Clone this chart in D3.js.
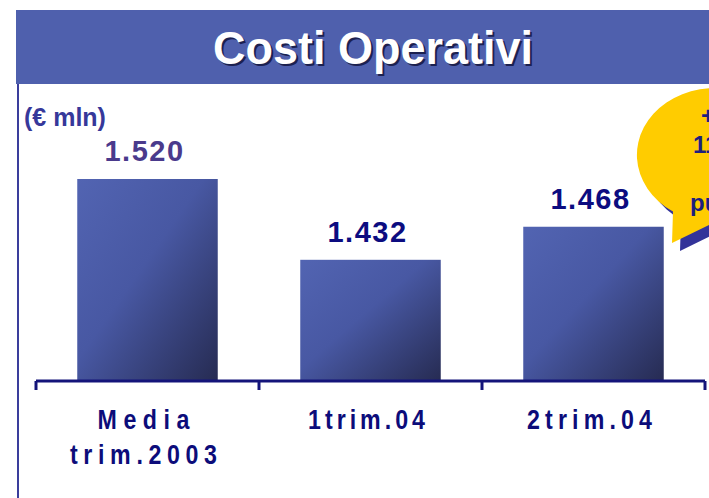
<!DOCTYPE html>
<html>
<head>
<meta charset="utf-8">
<script src="https://cdn.jsdelivr.net/npm/d3@7"></script>
<style>
  body { margin: 0; background: #fff; }
  svg { display: block; }
</style>
</head>
<body>
<svg id="chart" width="709" height="498"></svg>
<script>
// data
let categories = ['Media|trim.2003', '1trim.04', '2trim.04']
let values = [1520, 1432, 1468]
let valueLabels = ['1.520', '1.432', '1.468']
let bubbleLines = ['+2,5%', '11 mln', '', 'punti']

// the slide's font is a squeezed, spaced-out Helvetica: fix text widths
let catLineWidths = { 'Media': 92, 'trim.2003': 147, '1trim.04': 117, '2trim.04': 125 }
let squeeze = 0.86

let svg = d3.select('#chart')
let defs = svg.append('defs')

let grad = defs.append('linearGradient')
    .attr('id', 'barGrad')
    .attr('x1', 0).attr('y1', 0).attr('x2', 1).attr('y2', 1)
grad.append('stop').attr('offset', '0%').attr('stop-color', '#5264b2')
grad.append('stop').attr('offset', '45%').attr('stop-color', '#4858a3')
grad.append('stop').attr('offset', '100%').attr('stop-color', '#262b52')

// title banner
svg.append('rect')
    .attr('x', 16).attr('y', 10)
    .attr('width', 693).attr('height', 74)
    .attr('fill', '#4f60ad')

let font = 'Liberation Sans, Arial, sans-serif'
let title = (dx, dy, col) => svg.append('text')
    .attr('x', 213 + dx).attr('y', 64 + dy)
    .attr('font-family', font)
    .attr('font-weight', 'bold')
    .attr('font-size', 46)
    .attr('textLength', 320)
    .attr('lengthAdjust', 'spacingAndGlyphs')
    .attr('fill', col)
    .text('Costi Operativi')
title(2, 2, '#1c2150')
title(0, 0, '#ffffff')

// left border line
svg.append('line')
    .attr('x1', 18).attr('x2', 18)
    .attr('y1', 84).attr('y2', 498)
    .attr('stroke', '#3a3d9c').attr('stroke-width', 2)

svg.append('text')
    .attr('x', 24).attr('y', 126)
    .attr('font-family', font)
    .attr('font-weight', 'bold')
    .attr('font-size', 25)
    .attr('fill', '#36389a')
    .text('(€ mln)')

// scales
let x = d3.scaleBand()
    .domain(categories)
    .range([36, 705])
    .paddingInner(0.37)
    .paddingOuter(0.185)

let y = d3.scaleLinear()
    .domain([1300, 1520])
    .range([381, 179])

// bars
svg.selectAll('rect.bar')
    .data(values)
    .enter()
    .append('rect')
    .attr('class', 'bar')
    .attr('x', (d, i) => x(categories[i]))
    .attr('y', d => y(d))
    .attr('width', x.bandwidth())
    .attr('height', d => y(1300) - y(d))
    .attr('fill', 'url(#barGrad)')

// value labels
svg.selectAll('text.val')
    .data(values)
    .enter()
    .append('text')
    .attr('class', 'val')
    .attr('x', (d, i) => x(categories[i]) + x.bandwidth() / 2 - 3)
    .attr('y', d => y(d) - 18)
    .attr('text-anchor', 'middle')
    .attr('font-family', font)
    .attr('font-weight', 'bold')
    .attr('font-size', 29)
    .attr('letter-spacing', 1.5)
    .attr('fill', (d, i) => i === 0 ? '#4a3a8c' : '#0c0c80')
    .text((d, i) => valueLabels[i])

// axis line with ticks on the band edges
let bounds = categories.map(c => x(c) - x.step() * x.paddingOuter()).concat([705])
let axisG = svg.append('g').attr('transform', 'translate(0,381)')
axisG.append('line')
    .attr('x1', 36).attr('x2', 705)
    .attr('stroke', '#14147a').attr('stroke-width', 3)
axisG.selectAll('line.tick')
    .data(bounds)
    .enter()
    .append('line')
    .attr('class', 'tick')
    .attr('x1', d => d).attr('x2', d => d)
    .attr('y1', 0).attr('y2', 9)
    .attr('stroke', '#14147a').attr('stroke-width', 3)

// category labels: one text per line, squeezed glyphs, wide spacing
let catLines = []
categories.forEach(c => c.split('|').forEach((s, i) => catLines.push({ s: s, c: c, row: i })))
svg.selectAll('g.cat')
    .data(catLines)
    .enter()
    .append('g')
    .attr('class', 'cat')
    .attr('transform', d => 'translate(' + (x(d.c) + x.bandwidth() / 2 - 4) + ',' + (429 + d.row * 35) + ') scale(' + squeeze + ',1)')
    .append('text')
    .attr('text-anchor', 'middle')
    .attr('font-family', font)
    .attr('font-weight', 'bold')
    .attr('font-size', 27)
    .attr('fill', '#0c0c7a')
    .attr('textLength', d => catLineWidths[d.s] / squeeze)
    .attr('lengthAdjust', 'spacing')
    .text(d => d.s)

// callout bubble, cut by the right edge
let bubble = 'M 673 211.5 A 78 67 0 1 1 715 222 L 672 243 Z'
svg.append('path')
    .attr('d', bubble)
    .attr('transform', 'translate(8,8)')
    .attr('fill', '#333399')
svg.append('path')
    .attr('d', bubble)
    .attr('fill', '#ffcc00')

let bubbleX = [701, 693, 712, 690]
svg.selectAll('text.bub')
    .data(bubbleLines)
    .enter()
    .append('text')
    .attr('class', 'bub')
    .attr('x', (d, i) => bubbleX[i])
    .attr('y', (d, i) => 124 + i * 29)
    .attr('font-family', font)
    .attr('font-weight', 'bold')
    .attr('font-size', 24)
    .attr('fill', '#1e1e7e')
    .text(d => d)
</script>
</body>
</html>
